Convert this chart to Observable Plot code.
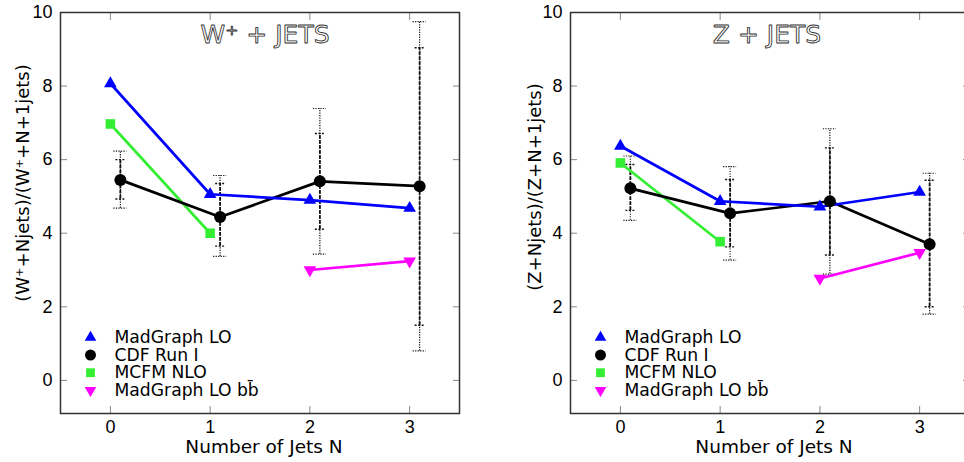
<!DOCTYPE html>
<html><head><meta charset="utf-8">
<script src="https://cdn.jsdelivr.net/npm/d3@7"></script>
<script src="https://cdn.jsdelivr.net/npm/@observablehq/plot@0.6"></script>
<style>
body{margin:0;background:#fff}
#wrap{position:relative;width:964px;height:462px;overflow:hidden;background:#fff}
#wrap svg{position:absolute;top:0}
</style>
</head><body><div id="wrap"></div>
<script>
// ---- data ----
const nJets = [0, 1, 2, 3];
const xTicks = [0, 1, 2, 3];
const yTicks = [0, 2, 4, 6, 8, 10];
const seriesNames = ["MadGraph LO", "CDF Run I", "MCFM NLO", "MadGraph LO bb\u0304"];

// W+ + jets
const wMadLO = [8.07, 5.06, 4.90, 4.68];
const wCdf = [5.45, 4.44, 5.41, 5.28];
const wCdfInnerHi = [6.00, 5.35, 6.71, 9.04];
const wCdfInnerLo = [4.93, 3.65, 4.11, 1.50];
const wCdfOuterHi = [6.23, 5.57, 7.39, 9.75];
const wCdfOuterLo = [4.68, 3.37, 3.43, 0.80];
const wMcfmN = [0, 1];
const wMcfm = [6.97, 4.00];
const wBbN = [2, 3];
const wBb = [3.00, 3.24];

// Z + jets
const zMadLO = [6.37, 4.87, 4.72, 5.12];
const zCdf = [5.22, 4.54, 4.87, 3.70];
const zCdfInnerHi = [5.87, 5.46, 6.32, 5.44];
const zCdfInnerLo = [4.62, 3.63, 3.41, 2.00];
const zCdfOuterHi = [6.10, 5.81, 6.84, 5.63];
const zCdfOuterLo = [4.35, 3.27, 2.89, 1.80];
const zMcfmN = [0, 1];
const zMcfm = [5.91, 3.77];
const zBbN = [2, 3];
const zBb = [2.77, 3.47];

// ---- styles ----
const BLUE = "#0000ff", BLACK = "#000000", GREEN = "#33ee33", MAGENTA = "#ff00ff";
const triangleDown = {
  draw(context, size) {
    const s3 = Math.sqrt(3);
    const y = -Math.sqrt(size / (s3 * 3));
    context.moveTo(0, -y * 2);
    context.lineTo(-s3 * y, y);
    context.lineTo(s3 * y, y);
    context.closePath();
  }
};
const symbols = ["triangle", "circle", "square", triangleDown];
const colors = [BLUE, BLACK, GREEN, MAGENTA];
const radii = [4.7, 6, 5.4, 4.7];

function panel(cfg) {
  const mad = nJets.map((n, i) => ({n, v: cfg.mad[i]}));
  const cdf = nJets.map((n, i) => ({n, v: cfg.cdf[i], ihi: cfg.ihi[i], ilo: cfg.ilo[i], ohi: cfg.ohi[i], olo: cfg.olo[i]}));
  const mcfm = cfg.mcfmN.map((n, i) => ({n, v: cfg.mcfm[i]}));
  const bb = cfg.bbN.map((n, i) => ({n, v: cfg.bb[i]}));
  const shift = 10; // CDF points drawn slightly right of N
  const errStroke = "#111";
  const legendMarks = seriesNames.flatMap((name, i) => [
    Plot.dot([name], {frameAnchor: "bottom-left", dx: 30, dy: -76 + i * 17.6, symbol: symbols[i], fill: colors[i], r: radii[i] * 0.92}),
    Plot.text([name], {frameAnchor: "bottom-left", dx: 54, dy: -76 + i * 17.6, text: d => d, textAnchor: "start", lineAnchor: "middle", fontFamily: "DejaVu Sans", fontSize: 17.2, fill: "#000"})
  ]);
  return Plot.plot({
    width: cfg.width, height: 462,
    marginTop: 12, marginBottom: 49, marginLeft: cfg.ml, marginRight: cfg.mr,
    style: {fontFamily: "Liberation Sans, Arial, sans-serif", background: "transparent", overflow: "visible"},
    x: {domain: [-0.5, 3.5], label: null},
    y: {domain: [-0.9, 10], label: null},
    marks: [
      Plot.axisX({anchor: "bottom", ticks: xTicks, tickSize: -7, tickPadding: 14, fontSize: 18, stroke: "#888", color: "#000", label: null, tickFormat: d => d}),
      Plot.axisX({anchor: "top", ticks: xTicks, tickSize: -7, stroke: "#888", label: null, tickFormat: () => ""}),
      Plot.axisY({anchor: "left", ticks: yTicks, tickSize: -7, tickPadding: 15, fontSize: 18, stroke: "#888", color: "#000", label: null}),
      Plot.axisY({anchor: "right", ticks: yTicks, tickSize: -7, stroke: "#888", label: null, tickFormat: () => ""}),
      // error bars
      Plot.ruleX(cdf, {x: "n", y1: "olo", y2: "ohi", dx: shift, stroke: errStroke, strokeWidth: 1.2, strokeDasharray: "1.2,1.3"}),
      Plot.ruleX(cdf, {x: "n", y1: "ilo", y2: "ihi", dx: shift, stroke: errStroke, strokeWidth: 1.8, strokeDasharray: "3.5,1.5"}),
      Plot.ruleY(cdf, {y: "ohi", x1: d => d.n - 0.065, x2: d => d.n + 0.065, dx: shift, stroke: errStroke, strokeWidth: 1.2, strokeDasharray: "1.2,1.3"}),
      Plot.ruleY(cdf, {y: "olo", x1: d => d.n - 0.065, x2: d => d.n + 0.065, dx: shift, stroke: errStroke, strokeWidth: 1.2, strokeDasharray: "1.2,1.3"}),
      Plot.ruleY(cdf, {y: "ihi", x1: d => d.n - 0.045, x2: d => d.n + 0.045, dx: shift, stroke: errStroke, strokeWidth: 1.4, strokeDasharray: "2,1.5"}),
      Plot.ruleY(cdf, {y: "ilo", x1: d => d.n - 0.045, x2: d => d.n + 0.045, dx: shift, stroke: errStroke, strokeWidth: 1.4, strokeDasharray: "2,1.5"}),
      // lines
      Plot.line(mcfm, {x: "n", y: "v", stroke: GREEN, strokeWidth: 2.7}),
      Plot.line(cdf, {x: "n", y: "v", dx: shift, stroke: BLACK, strokeWidth: 2.7}),
      Plot.line(mad, {x: "n", y: "v", stroke: BLUE, strokeWidth: 2.7}),
      Plot.line(bb, {x: "n", y: "v", stroke: MAGENTA, strokeWidth: 2.7}),
      // markers
      Plot.dot(mcfm, {x: "n", y: "v", symbol: "square", fill: GREEN, r: radii[2]}),
      Plot.dot(cdf, {x: "n", y: "v", dx: shift, symbol: "circle", fill: BLACK, r: radii[1]}),
      Plot.dot(mad, {x: "n", y: "v", symbol: "triangle", fill: BLUE, r: radii[0]}),
      Plot.dot(bb, {x: "n", y: "v", symbol: triangleDown, fill: MAGENTA, r: radii[3]}),
      Plot.frame({stroke: "#333", strokeWidth: 1.5}),
      // title
      Plot.text([cfg.title], {frameAnchor: "top", dx: cfg.titleDx, dy: 22, text: d => d, textAnchor: "middle", lineAnchor: "middle", fontFamily: "DejaVu Sans", fontSize: 25, fill: "white", stroke: "#333", strokeWidth: 0.9, paintOrder: "normal"}),
      // y label
      Plot.text([cfg.ylabel], {frameAnchor: "left", dx: cfg.ylDx, dy: cfg.ylDy, rotate: -90, text: d => d, textAnchor: "middle", lineAnchor: "middle", fontFamily: "DejaVu Sans", fontSize: 18, fill: "#000"}),
      // x label
      Plot.text(["Number of Jets N"], {frameAnchor: "bottom", dx: 4, dy: 34, text: d => d, textAnchor: "middle", lineAnchor: "middle", fontFamily: "DejaVu Sans", fontSize: 18.5, fill: "#000"}),
      ...legendMarks
    ]
  });
}

const wrap = document.getElementById("wrap");
const left = panel({
  width: 482, ml: 60, mr: 23, title: "W\u207A + JETS", titleDx: 5,
  ylabel: "(W\u207A+Njets)/(W\u207A+N+1jets)", ylDx: -37, ylDy: -30,
  mad: wMadLO, cdf: wCdf, ihi: wCdfInnerHi, ilo: wCdfInnerLo, ohi: wCdfOuterHi, olo: wCdfOuterLo,
  mcfmN: wMcfmN, mcfm: wMcfm, bbN: wBbN, bb: wBb
});
left.style.left = "0px";
wrap.appendChild(left);
const right = panel({
  width: 500, ml: 86, mr: 15, title: "Z + JETS", titleDx: -3,
  ylabel: "(Z+Njets)/(Z+N+1jets)", ylDx: -35, ylDy: -26,
  mad: zMadLO, cdf: zCdf, ihi: zCdfInnerHi, ilo: zCdfInnerLo, ohi: zCdfOuterHi, olo: zCdfOuterLo,
  mcfmN: zMcfmN, mcfm: zMcfm, bbN: zBbN, bb: zBb
});
right.style.left = "484px";
wrap.appendChild(right);
</script>
</body></html>
